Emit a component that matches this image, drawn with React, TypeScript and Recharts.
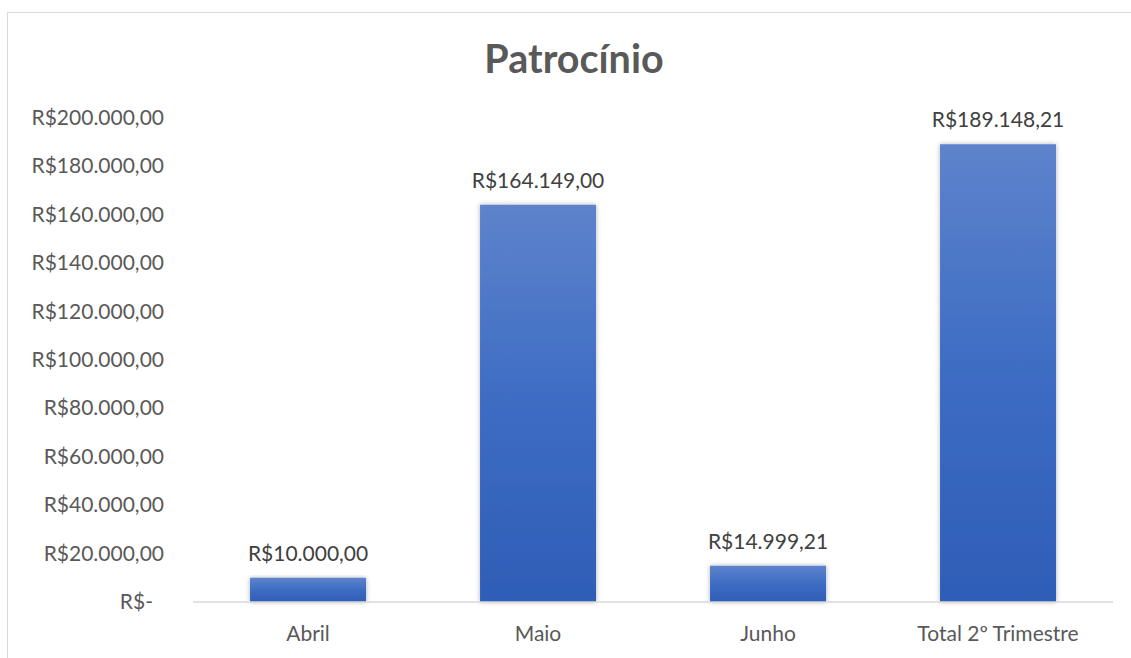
import React from 'react';
import { BarChart, Bar, XAxis, YAxis, LabelList } from 'recharts';

const categories = ['Abril', 'Maio', 'Junho', 'Total 2º Trimestre'];
const values = [10000, 164149, 14999.21];
const totals = [189148.21];
const yTicks = [0, 20000, 40000, 60000, 80000, 100000, 120000, 140000, 160000, 180000, 200000];

const seriesValues = [...values, ...totals];
const data = categories.map((name, i) => ({ name, value: seriesValues[i] }));

const FONT = 'Lato, "Noto Sans", sans-serif';

// formato contábil brasileiro: R$1.234,56 e R$- para zero
function brl(v: number) {
  if (v === 0) return 'R$-';
  const [int, dec] = v.toFixed(2).split('.');
  return 'R$' + int.replace(/\B(?=(\d{3})+(?!\d))/g, '.') + ',' + dec;
}

function YTick(props: any) {
  const { x, y, payload } = props;
  const zero = payload.value === 0;
  return (
    <text
      x={zero ? x - 11 : x}
      y={y}
      dy={7}
      textAnchor="end"
      fill="#595959"
      fontSize={21}
      fontFamily={FONT}
    >
      {brl(payload.value)}
    </text>
  );
}

function XTick(props: any) {
  const { x, y, payload } = props;
  return (
    <text x={x} y={y + 31} textAnchor="middle" fill="#595959" fontSize={21} fontFamily={FONT}>
      {payload.value}
    </text>
  );
}

export default function App() {
  return (
    <div style={{ position: 'fixed', left: 0, top: 0, width: 1131, height: 658, background: '#fff', overflow: 'hidden' }}>
      <div
        style={{
          position: 'absolute',
          left: 7,
          top: 12,
          width: 1140,
          height: 700,
          borderTop: '1.5px solid #D9D9D9',
          borderLeft: '1.5px solid #D9D9D9',
        }}
      />
      <div
        style={{
          position: 'absolute',
          left: 374,
          width: 400,
          top: 35,
          textAlign: 'center',
          fontFamily: FONT,
          fontWeight: 'bold',
          fontSize: 39.5,
          lineHeight: '46px',
          color: '#595959',
        }}
      >
        Patrocínio
      </div>
      <div style={{ position: 'absolute', left: 0, top: 0 }}>
        <BarChart width={1131} height={658} data={data} margin={{ top: 118, right: 18, bottom: 0, left: 0 }} barCategoryGap="24.8%">
          <defs>
            <linearGradient id="barGrad" x1="0" y1="0" x2="0" y2="1">
              <stop offset="0%" stopColor="#5E83CC" />
              <stop offset="50%" stopColor="#3D6CC3" />
              <stop offset="100%" stopColor="#2E5EB7" />
            </linearGradient>
            <filter id="barShadow" x="-10%" y="-10%" width="120%" height="120%">
              <feDropShadow dx="0" dy="0" stdDeviation="2.5" floodColor="#000" floodOpacity="0.3" />
            </filter>
          </defs>
          <XAxis
            dataKey="name"
            height={56}
            tickLine={false}
            axisLine={{ stroke: '#D9D9D9', strokeWidth: 1.5 }}
            tick={<XTick />}
            interval={0}
          />
          <YAxis
            width={193}
            domain={[0, 200000]}
            ticks={yTicks}
            axisLine={false}
            tickLine={false}
            tickMargin={23}
            tick={<YTick />}
            interval={0}
          />
          <Bar dataKey="value" fill="url(#barGrad)" filter="url(#barShadow)" isAnimationActive={false}>
            <LabelList
              dataKey="value"
              position="top"
              offset={17}
              formatter={(v: any) => brl(Number(v))}
              fill="#404040"
              fontSize={21}
              fontFamily={FONT}
            />
          </Bar>
        </BarChart>
      </div>
    </div>
  );
}
